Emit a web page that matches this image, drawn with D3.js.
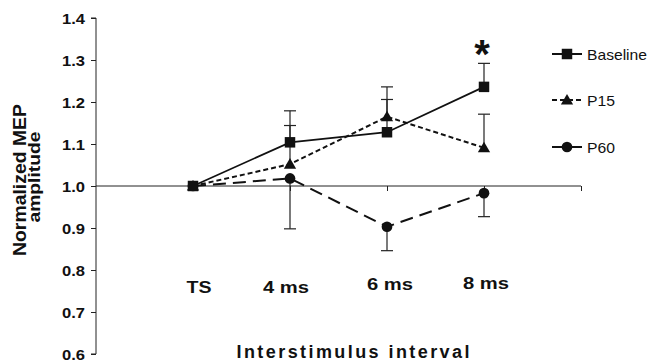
<!DOCTYPE html>
<html>
<head>
<meta charset="utf-8">
<script src="https://cdn.jsdelivr.net/npm/d3@7"></script>
<style>
  body { margin: 0; background: #fff; }
  text { font-family: "Liberation Sans", Arial, sans-serif; }
</style>
</head>
<body>
<div id="chart"></div>
<script>
// Data
var categories = ["TS", "4 ms", "6 ms", "8 ms"];
var baseline = [1.0, 1.104, 1.128, 1.236];
var baselineErr = [0, 0.075, 0.078, 0.056];   // upper bars
var p15 = [1.0, 1.052, 1.165, 1.091];
var p15Err = [0, 0.092, 0.071, 0.08];         // upper bars
var p60 = [1.0, 1.018, 0.903, 0.983];
var p60Err = [0, 0.12, 0.057, 0.056];         // lower bars
var yTicks = [0.6, 0.7, 0.8, 0.9, 1.0, 1.1, 1.2, 1.3, 1.4];

var svgWidth = 654, svgHeight = 362;

var svg = d3.select("#chart").append("svg")
    .attr("width", svgWidth)
    .attr("height", svgHeight);

// Scales (x: category slot index, 0 = y axis, 5 = end of axis line)
var x = d3.scaleLinear().domain([0, 5]).range([96, 581]);
var y = d3.scaleLinear().domain([0.6, 1.4]).range([354, 18]);

// Y axis
var leftAxis = d3.axisLeft(y).tickValues(yTicks).tickSize(5).tickFormat(d3.format(".1f"));
var yAxisG = svg.append("g")
    .attr("transform", "translate(96,0)")
    .call(leftAxis);
yAxisG.select(".domain").attr("d", "M0," + y(1.4) + "V" + y(0.6) + "H-5M-5," + y(1.4) + "H0");
yAxisG.selectAll("line").attr("stroke", "#222");
yAxisG.select(".domain").attr("stroke", "#222");
yAxisG.selectAll("text")
    .attr("font-size", 15)
    .attr("font-weight", "bold")
    .attr("fill", "#111")
    .attr("x", -11)
    .attr("dy", "0.36em")
    .attr("textLength", 23)
    .attr("lengthAdjust", "spacingAndGlyphs");

// Horizontal reference axis at 1.0
var bottomAxis = d3.axisBottom(x).tickValues([1, 2, 3, 4, 5]).tickSize(5).tickFormat("");
var xAxisG = svg.append("g")
    .attr("transform", "translate(0," + y(1.0) + ")")
    .call(bottomAxis);
xAxisG.select(".domain").attr("d", "M" + x(0) + ",0H" + x(5)).attr("stroke", "#222");
xAxisG.selectAll("line").attr("stroke", "#222");

// Category labels
var labelX = [199, 286, 390, 486];
var labelY = [293, 293, 290, 289];
var labelW = [25, 46, 46, 46];
svg.selectAll(".cat").data(categories).enter()
    .append("text")
    .attr("class", "cat")
    .attr("x", (d, i) => labelX[i])
    .attr("y", (d, i) => labelY[i])
    .attr("text-anchor", "middle")
    .attr("font-size", 16)
    .attr("font-weight", "bold")
    .attr("fill", "#111")
    .attr("textLength", (d, i) => labelW[i])
    .attr("lengthAdjust", "spacingAndGlyphs")
    .text(d => d);

// Axis titles
svg.append("text")
    .attr("x", 353)
    .attr("y", 358)
    .attr("text-anchor", "middle")
    .attr("font-size", 18)
    .attr("font-weight", "bold")
    .attr("fill", "#111")
    .attr("textLength", 233)
    .attr("lengthAdjust", "spacing")
    .text("Interstimulus interval");

svg.append("text")
    .attr("transform", "translate(26,180) rotate(-90)")
    .attr("text-anchor", "middle")
    .attr("font-size", 19)
    .attr("font-weight", "bold")
    .attr("fill", "#111")
    .attr("textLength", 152)
    .attr("lengthAdjust", "spacingAndGlyphs")
    .text("Normalized MEP");
svg.append("text")
    .attr("transform", "translate(40,177) rotate(-90)")
    .attr("text-anchor", "middle")
    .attr("font-size", 17)
    .attr("font-weight", "bold")
    .attr("fill", "#111")
    .attr("textLength", 91)
    .attr("lengthAdjust", "spacingAndGlyphs")
    .text("amplitude");

// Error bars
function errorBars(vals, errs, dir) {
    var g = svg.append("g").attr("stroke", "#222").attr("stroke-width", 1.2);
    vals.forEach(function(v, i) {
        if (!errs[i]) return;
        var cx = x(i + 1);
        var end = v + dir * errs[i];
        g.append("line").attr("x1", cx).attr("x2", cx).attr("y1", y(v)).attr("y2", y(end));
        g.append("line").attr("x1", cx - 6).attr("x2", cx + 6).attr("y1", y(end)).attr("y2", y(end));
    });
}
errorBars(baseline, baselineErr, 1);
errorBars(p15, p15Err, 1);
errorBars(p60, p60Err, -1);

// Lines
var line = d3.line().x((d, i) => x(i + 1)).y(d => y(d));
svg.append("path").datum(p60)
    .attr("d", line).attr("fill", "none").attr("stroke", "#111")
    .attr("stroke-width", 2).attr("stroke-dasharray", "13,7");
svg.append("path").datum(p15)
    .attr("d", line).attr("fill", "none").attr("stroke", "#111")
    .attr("stroke-width", 2).attr("stroke-dasharray", "5,3");
svg.append("path").datum(baseline)
    .attr("d", line).attr("fill", "none").attr("stroke", "#111")
    .attr("stroke-width", 1.8);

// Markers
var sq = d3.symbol().type(d3.symbolSquare).size(110);
var tri = d3.symbol().type(d3.symbolTriangle).size(65);
var circ = d3.symbol().type(d3.symbolCircle).size(90);

svg.selectAll(".p60").data(p60).enter().append("path")
    .attr("d", circ).attr("fill", "#111")
    .attr("transform", (d, i) => "translate(" + x(i + 1) + "," + y(d) + ")");
svg.selectAll(".p15").data(p15).enter().append("path")
    .attr("d", tri).attr("fill", "#111")
    .attr("transform", (d, i) => "translate(" + x(i + 1) + "," + (y(d) + 1) + ")");
svg.selectAll(".base").data(baseline).enter().append("path")
    .attr("d", sq).attr("fill", "#111")
    .attr("transform", (d, i) => "translate(" + x(i + 1) + "," + y(d) + ")");

// Significance star
svg.append("text")
    .attr("x", x(4) - 2)
    .attr("y", 68)
    .attr("text-anchor", "middle")
    .attr("font-size", 40)
    .attr("font-weight", "bold")
    .attr("fill", "#111")
    .text("*");

// Legend
var legendItems = [
    {name: "Baseline", sym: sq, dash: null, y: 54, w: 60},
    {name: "P15", sym: tri, dash: "5,3", y: 100, w: 28},
    {name: "P60", sym: circ, dash: null, y: 147, w: 28}
];
legendItems.forEach(function(d) {
    var g = svg.append("g").attr("transform", "translate(0," + d.y + ")");
    g.append("line").attr("x1", 552).attr("x2", 582).attr("y1", 0).attr("y2", 0)
        .attr("stroke", "#111").attr("stroke-width", 2)
        .attr("stroke-dasharray", d.dash);
    g.append("path").attr("d", d.sym).attr("fill", "#111")
        .attr("transform", "translate(567," + (d.sym === tri ? 1 : 0) + ")");
    g.append("text").attr("x", 587).attr("y", 5.5)
        .attr("font-size", 15).attr("fill", "#111")
        .attr("textLength", d.w)
        .attr("lengthAdjust", "spacingAndGlyphs")
        .text(d.name);
});
</script>
</body>
</html>
